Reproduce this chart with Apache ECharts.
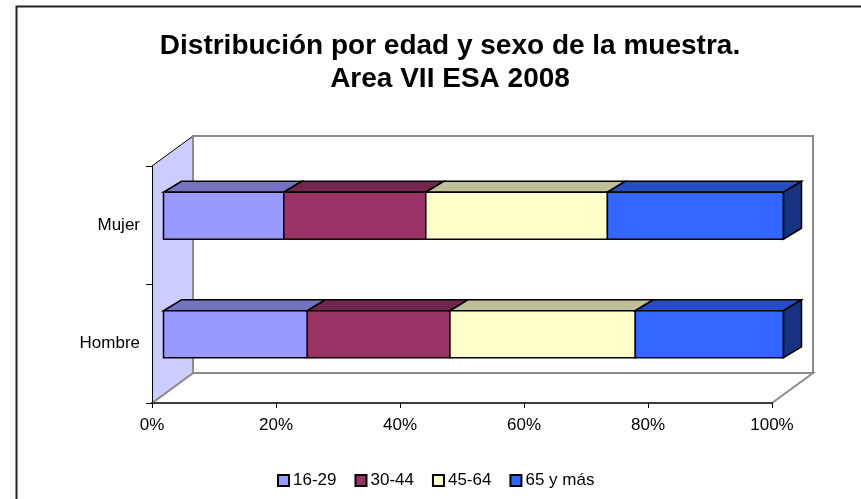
<!DOCTYPE html>
<html>
<head>
<meta charset="utf-8">
<script src="https://cdn.jsdelivr.net/npm/echarts@6/dist/echarts.min.js"></script>
<style>
  html, body { margin: 0; padding: 0; background: #fff; }
  #chart { width: 861px; height: 499px; }
</style>
</head>
<body>
<div id="chart"></div>
<script>
// categories (bottom to top) and age groups
var categories = ['Hombre', 'Mujer'];
var groups = ['16-29', '30-44', '45-64', '65 y más'];
// percent of each sex in each age group
var hombre = [23.2, 23.0, 29.9, 23.9];
var mujer = [19.4, 22.9, 29.3, 28.4];

var frontColors = ['#9999FF', '#993366', '#FFFFCC', '#3366FF'];
var topColors = ['#7373BF', '#73264D', '#BFBF99', '#264DBF'];
var sideColors = ['#5C5C99', '#5C1F3D', '#99997A', '#1A3380'];

// 3d look: walls depth and where the bars sit inside it
var WALL_DX = 41, WALL_DY = 30;
var BAR_DX = 11.5, BAR_DY = 9.5;
var BAR_H = 47, DEPTH_X = 18, DEPTH_Y = 11;

var font = '"Liberation Sans", Arial, sans-serif';

function wallsItem(params, api) {
    var cs = params.coordSys;
    var x0 = cs.x, y0 = cs.y, x1 = cs.x + cs.width, y1 = cs.y + cs.height;
    return {
        type: 'group',
        children: [
            { // back wall
                type: 'rect',
                shape: { x: x0 + WALL_DX, y: y0 - WALL_DY, width: cs.width, height: cs.height },
                style: { fill: '#fff', stroke: '#8c8c8c', lineWidth: 2 }
            },
            { // floor
                type: 'polygon',
                shape: { points: [[x0, y1], [x0 + WALL_DX, y1 - WALL_DY], [x1 + WALL_DX, y1 - WALL_DY], [x1, y1]] },
                style: { fill: '#fff', stroke: '#8c8c8c', lineWidth: 2 }
            },
            { // left wall
                type: 'polygon',
                shape: { points: [[x0, y0], [x0 + WALL_DX, y0 - WALL_DY], [x0 + WALL_DX, y1 - WALL_DY], [x0, y1]] },
                style: { fill: '#CCCCFF', stroke: null }
            },
            {
                type: 'line',
                shape: { x1: x0, y1: y0, x2: x0 + WALL_DX, y2: y0 - WALL_DY },
                style: { stroke: '#000', lineWidth: 1 }
            },
            {
                type: 'line',
                shape: { x1: x0 + WALL_DX, y1: y0 - WALL_DY, x2: x0 + WALL_DX, y2: y1 - WALL_DY },
                style: { stroke: '#8c8c8c', lineWidth: 2 }
            },
            {
                type: 'line',
                shape: { x1: x0, y1: y1, x2: x0 + WALL_DX, y2: y1 - WALL_DY },
                style: { stroke: '#8c8c8c', lineWidth: 2 }
            }
        ]
    };
}

function makeBar(idx) {
    return function (params, api) {
        var cat = api.value(0);
        var p0 = api.coord([api.value(1), cat]);
        var p1 = api.coord([api.value(2), cat]);
        var xa = p0[0] + BAR_DX, xb = p1[0] + BAR_DX;
        var top = p0[1] - BAR_DY - BAR_H / 2, bot = top + BAR_H;
        var stroke = { stroke: '#000', lineWidth: 1.5, lineJoin: 'miter' };
        var kids = [
            {
                type: 'polygon',
                shape: { points: [[xa, top], [xa + DEPTH_X, top - DEPTH_Y], [xb + DEPTH_X, top - DEPTH_Y], [xb, top]] },
                style: Object.assign({ fill: topColors[idx] }, stroke)
            },
            {
                type: 'rect',
                shape: { x: xa, y: top, width: xb - xa, height: BAR_H },
                style: Object.assign({ fill: frontColors[idx] }, stroke)
            }
        ];
        if (idx === groups.length - 1) {
            kids.push({
                type: 'polygon',
                shape: { points: [[xb, top], [xb + DEPTH_X, top - DEPTH_Y], [xb + DEPTH_X, bot - DEPTH_Y], [xb, bot]] },
                style: Object.assign({ fill: sideColors[idx] }, stroke)
            });
        }
        return { type: 'group', children: kids };
    };
}

var rows = [hombre, mujer];
var series = [{
    type: 'custom',
    name: 'walls',
    renderItem: wallsItem,
    data: [[0, 0, 0]],
    z: 1,
    silent: true,
    legendHoverLink: false
}];
groups.forEach(function (g, i) {
    var data = rows.map(function (r, c) {
        var start = 0;
        for (var k = 0; k < i; k++) start += r[k];
        return [c, start, start + r[i]];
    });
    series.push({
        type: 'custom',
        name: g,
        renderItem: makeBar(i),
        encode: { x: [1, 2], y: 0 },
        itemStyle: { color: frontColors[i], borderColor: '#000', borderWidth: 1 },
        data: data,
        z: 4
    });
});

var chart = echarts.init(document.getElementById('chart'), null, { renderer: 'canvas' });
chart.setOption({
    animation: false,
    backgroundColor: '#fff',
    textStyle: { fontFamily: font },
    title: {
        text: 'Distribución por edad y sexo de la muestra.\nArea VII ESA 2008',
        left: 445,
        top: 25,
        textAlign: 'center',
        textStyle: { fontFamily: font, fontSize: 28, fontWeight: 'bold', color: '#000', lineHeight: 33 }
    },
    legend: {
        data: groups,
        left: 272,
        top: 467,
        icon: 'rect',
        itemWidth: 11,
        itemHeight: 11,
        itemGap: 18,
        textStyle: { fontFamily: font, fontSize: 17, color: '#000', padding: [0, 0, 0, -1] }
    },
    grid: { left: 152, right: 89, top: 166, bottom: 96, containLabel: false },
    xAxis: {
        type: 'value',
        min: 0,
        max: 100,
        interval: 20,
        z: 3,
        axisLine: { show: true, lineStyle: { color: '#3c3c3c', width: 2 } },
        axisTick: { show: true, length: 5, lineStyle: { color: '#000' } },
        axisLabel: { formatter: '{value}%', color: '#000', fontSize: 17, margin: 14, fontFamily: font },
        splitLine: { show: false }
    },
    yAxis: {
        type: 'category',
        data: categories,
        z: 3,
        axisLine: { show: true, lineStyle: { color: '#000', width: 1 } },
        axisTick: { show: true, length: 6, lineStyle: { color: '#000' } },
        axisLabel: { color: '#000', fontSize: 17, margin: 12, fontFamily: font }
    },
    graphic: [{
        type: 'rect',
        shape: { x: 16.5, y: 6.5, width: 900, height: 600 },
        style: { fill: null, stroke: '#222', lineWidth: 2 },
        z: 10
    }],
    series: series
});
</script>
</body>
</html>
